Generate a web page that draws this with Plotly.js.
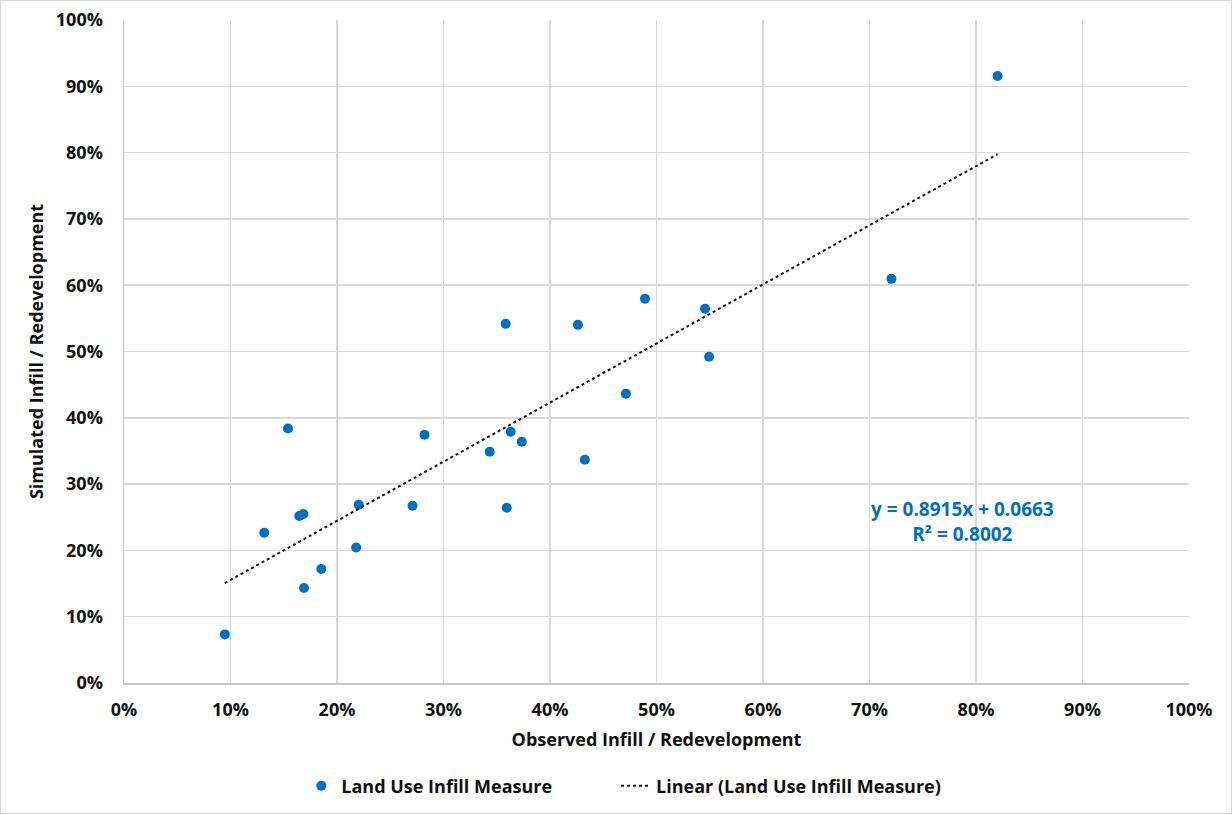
<!DOCTYPE html>
<html>
<head>
<meta charset="utf-8">
<script src="https://cdn.plot.ly/plotly-3.0.1.min.js"></script>
<style>
  html, body { margin: 0; padding: 0; background: #fff; }
  #chart { width: 1232px; height: 814px; box-sizing: border-box; border: 1px solid #d9d9d9; }
</style>
</head>
<body>
<div id="chart"></div>
<script>
// Observed vs simulated infill / redevelopment shares (fractions)
const observed = [0.0947, 0.1317, 0.1540, 0.1646, 0.1684, 0.1690, 0.1853, 0.2180, 0.2204,
                  0.2709, 0.2822, 0.3434, 0.3584, 0.3594, 0.3631, 0.3735, 0.4262, 0.4327,
                  0.4713, 0.4892, 0.5456, 0.5494, 0.7206, 0.8203];
const simulated = [0.0733, 0.2266, 0.3838, 0.2518, 0.2548, 0.1432, 0.1719, 0.2044, 0.2688,
                   0.2673, 0.3744, 0.3487, 0.5417, 0.2643, 0.3789, 0.3638, 0.5402, 0.3367,
                   0.4362, 0.5795, 0.5644, 0.4920, 0.6096, 0.9156];
const trendSlope = 0.8915;
const trendIntercept = 0.0663;
const trendR2 = 0.8002;
const tickVals = [0, 0.1, 0.2, 0.3, 0.4, 0.5, 0.6, 0.7, 0.8, 0.9, 1.0];
const tickText = ['0%', '10%', '20%', '30%', '40%', '50%', '60%', '70%', '80%', '90%', '100%'];
const seriesName = 'Land Use Infill Measure';
const trendName = 'Linear (Land Use Infill Measure)';
const xTitle = 'Observed Infill / Redevelopment';
const yTitle = 'Simulated Infill / Redevelopment';

const xMin = Math.min(...observed), xMax = Math.max(...observed);
const trendX = [xMin, xMax];
const trendY = trendX.map(v => trendSlope * v + trendIntercept);

const FONT = 'Open Sans, Liberation Sans, Arial, sans-serif';
const BLUE = '#0070C0';
const legendFont = { family: FONT, size: 18, color: '#111', weight: 'bold' };

const traces = [
  {
    x: observed, y: simulated, type: 'scatter', mode: 'markers', name: seriesName,
    marker: { color: BLUE, size: 10 }, cliponaxis: false, legend: 'legend'
  },
  {
    x: trendX, y: trendY, type: 'scatter', mode: 'lines', name: trendName,
    line: { color: '#111', width: 2, dash: 'dot' }, legend: 'legend2'
  }
];

const axisCommon = {
  range: [0, 1], tickvals: tickVals, ticktext: tickText,
  showgrid: true, gridcolor: '#d9d9d9', gridwidth: 1.5,
  zeroline: false, showline: true, linecolor: '#c8c8c8', linewidth: 1.5,
  ticks: '', fixedrange: true,
  tickfont: { family: FONT, size: 18, color: '#111', weight: 'bold' }
};

const layout = {
  width: 1230, height: 812,
  margin: { l: 123, r: 42, t: 19, b: 130, autoexpand: false },
  paper_bgcolor: '#fff', plot_bgcolor: '#fff',
  showlegend: true,
  legend: {
    orientation: 'h', x: 0.1665, xanchor: 'left', y: -0.1554, yanchor: 'middle',
    font: legendFont
  },
  legend2: {
    orientation: 'h', x: 0.462, xanchor: 'left', y: -0.1554, yanchor: 'middle',
    font: legendFont
  },
  xaxis: Object.assign({}, axisCommon, {
    ticklabelstandoff: 10,
    title: { text: xTitle, font: { family: FONT, size: 18, color: '#111', weight: 'bold' }, standoff: 13 }
  }),
  yaxis: Object.assign({}, axisCommon, {
    ticklabelstandoff: 16,
    title: { text: yTitle, font: { family: FONT, size: 18, color: '#111', weight: 'bold' }, standoff: 7 }
  }),
  annotations: [{
    x: 0.787, y: 0.244, xref: 'x', yref: 'y', showarrow: false,
    text: 'y = ' + trendSlope.toFixed(4) + 'x + ' + trendIntercept.toFixed(4) + '<br>R² = ' + trendR2.toFixed(4),
    align: 'center',
    font: { family: FONT, size: 19, color: BLUE, weight: 'bold' }
  }]
};

Plotly.newPlot('chart', traces, layout, { displayModeBar: false, staticPlot: true });
</script>
</body>
</html>
